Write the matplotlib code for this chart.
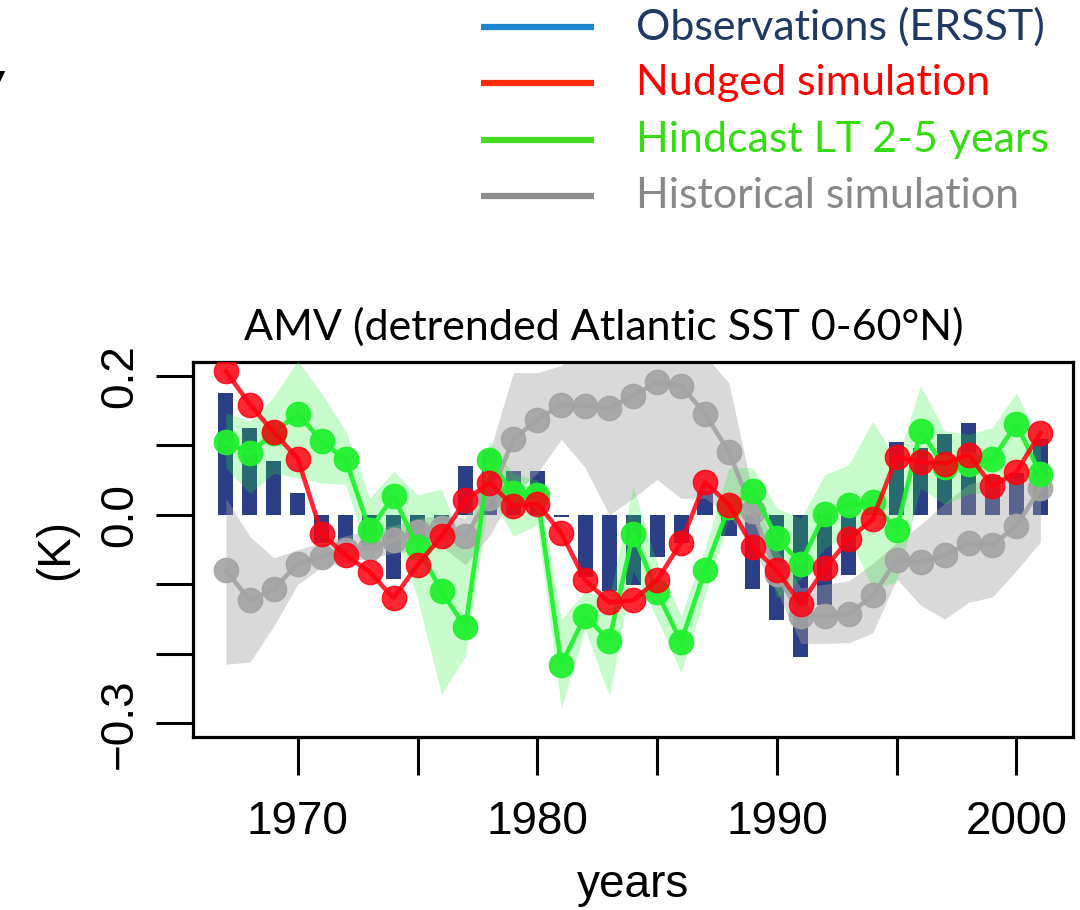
import numpy as np
import matplotlib.pyplot as plt
from matplotlib.lines import Line2D

# ==========================
# Data (K anomalies, 1967-2001)
# ==========================

years = np.arange(1967, 2002)

obs = [0.175, 0.125, 0.078, 0.031, -0.040, -0.038, -0.050, -0.092, -0.030, -0.012,
       0.070, 0.094, 0.063, 0.063, -0.003, -0.090, -0.110, -0.101, -0.060, -0.040,
       0.035, -0.031, -0.106, -0.152, -0.205, -0.130, -0.087, 0.005, 0.105, 0.096,
       0.116, 0.132, 0.058, 0.060, 0.110]

nudged = [0.207, 0.159, 0.119, 0.081, -0.027, -0.058, -0.082, -0.120, -0.072, -0.031,
          0.021, 0.046, 0.013, 0.016, -0.026, -0.094, -0.126, -0.123, -0.094, -0.040,
          0.047, 0.015, -0.046, -0.080, -0.128, -0.077, -0.035, -0.006, 0.084, 0.076,
          0.074, 0.087, 0.041, 0.062, 0.118]

hindcast = [0.105, 0.089, 0.118, 0.146, 0.106, 0.080, -0.022, 0.027, -0.046, -0.110,
            -0.162, 0.079, 0.032, 0.029, -0.216, -0.145, -0.181, -0.027, -0.111, -0.183,
            -0.080, 0.012, 0.034, -0.033, -0.070, 0.002, 0.014, 0.018, -0.022, 0.121,
            0.069, 0.073, 0.080, 0.131, 0.059]

hind_lo = [0.068, 0.031, 0.060, 0.053, 0.046, 0.044, -0.065, -0.020, -0.120, -0.258,
           -0.203, 0.030, -0.031, -0.014, -0.278, -0.165, -0.261, -0.080, -0.150, -0.227,
           -0.116, -0.005, 0.000, -0.120, -0.092, -0.048, -0.030, -0.106, -0.097, 0.039,
           0.015, 0.030, 0.034, 0.080, 0.030]

hind_hi = [0.147, 0.135, 0.170, 0.222, 0.175, 0.121, 0.024, 0.063, 0.029, 0.037,
           -0.053, 0.106, 0.060, 0.050, -0.150, -0.110, -0.120, 0.041, -0.070, -0.145,
           -0.048, 0.068, 0.068, 0.010, -0.005, 0.058, 0.072, 0.135, 0.077, 0.186,
           0.121, 0.116, 0.126, 0.176, 0.100]

historical = [-0.080, -0.123, -0.107, -0.070, -0.060, -0.051, -0.048, -0.036, -0.024, -0.019,
              -0.030, 0.025, 0.109, 0.137, 0.159, 0.157, 0.154, 0.172, 0.191, 0.186,
              0.146, 0.090, 0.005, -0.085, -0.145, -0.145, -0.143, -0.116, -0.065, -0.068,
              -0.058, -0.041, -0.043, -0.016, 0.039]

hist_lo = [-0.215, -0.212, -0.160, -0.100, -0.075, -0.068, -0.062, -0.055, -0.050, -0.045,
           -0.072, -0.030, 0.030, 0.060, 0.109, 0.068, 0.000, 0.024, 0.051, 0.024,
           0.024, 0.000, -0.050, -0.110, -0.185, -0.185, -0.184, -0.170, -0.092, -0.130,
           -0.150, -0.126, -0.118, -0.080, -0.039]

hist_hi = [0.024, -0.031, -0.062, -0.050, -0.040, -0.030, -0.022, -0.015, -0.005, 0.000,
           -0.005, 0.090, 0.205, 0.205, 0.215, 0.240, 0.250, 0.250, 0.250, 0.250,
           0.230, 0.190, 0.030, -0.050, -0.105, -0.100, -0.095, -0.070, -0.040, -0.014,
           0.017, 0.044, 0.053, 0.053, 0.053]

legend_labels = ['Observations (ERSST)', 'Nudged simulation',
                 'Hindcast LT 2-5 years', 'Historical simulation']
legend_line_colors = ['#1a86d0', '#ff2a0a', '#44dd22', '#8c8c8c']
legend_text_colors = ['#1f3864', '#ff0000', '#33dd11', '#888888']

# ==========================
# Styling
# ==========================

navy = '#2a3f87'
red = '#ff0010'
green = '#22f030'
grey = '#a3a3a3'

tick_font = 'Liberation Sans'
label_font = 'Lato'

fig = plt.figure(figsize=(10.8, 9.1), dpi=100)
ax = fig.add_axes([0.179, 0.190, 0.8145, 0.412])

# Observations as bars
ax.bar(years, obs, width=0.63, color=navy, zorder=1)

# Ensemble spread
ax.fill_between(years, hist_lo, hist_hi, color='#a0a0a0', alpha=0.4,
                linewidth=0, zorder=2)
ax.fill_between(years, hind_lo, hind_hi, color=green, alpha=0.25,
                linewidth=0, zorder=3)

# Ensemble means
ax.plot(years, historical, color=grey, lw=3.3, marker='o', ms=17.5,
        alpha=0.9, zorder=4)
ax.plot(years, hindcast, color=green, lw=3.3, marker='o', ms=17.5,
        alpha=0.95, zorder=5)
ax.plot(years, nudged, color=red, lw=3.3, marker='o', ms=17.5,
        alpha=0.85, zorder=6)

ax.set_xlim(1965.64, 2002.36)
ax.set_ylim(-0.32, 0.22)

ax.set_xticks(np.arange(1970, 2001, 5))
ax.set_xticklabels(['1970', '', '1980', '', '1990', '', '2000'])
ax.set_yticks([0.2, 0.1, 0.0, -0.1, -0.2, -0.3])
ax.set_yticklabels(['0.2', '', '0.0', '', '', '\u22120.3'],
                   rotation=90, va='center')

ax.tick_params(length=27, width=2.2, labelsize=33)
ax.tick_params(axis='x', pad=18)
ax.tick_params(axis='y', pad=10)
for lab in ax.get_xticklabels() + ax.get_yticklabels():
    lab.set_fontfamily(tick_font)
for sp in ax.spines.values():
    sp.set_linewidth(2.3)

ax.set_xlabel('years', fontsize=33, family=tick_font, labelpad=14)
ax.set_ylabel('(K)', fontsize=33, family=tick_font, labelpad=14)
ax.set_title('AMV (detrended Atlantic SST 0-60\u00b0N)', fontsize=31,
             family=label_font, pad=16, x=0.467)

# Legend drawn by hand in figure coordinates
W, H = 1080, 910
rows = [27, 83, 140, 196]
for y, lab, lc, tc in zip(rows, legend_labels, legend_line_colors, legend_text_colors):
    fig.add_artist(Line2D([481 / W, 594 / W], [1 - y / H, 1 - y / H],
                          color=lc, lw=4.5, solid_capstyle='butt'))
    fig.text(636 / W, 1 - y / H, lab, color=tc, fontsize=31,
             family=label_font, va='center', ha='left')

# Fragment of a label running off the left edge
fig.text(-0.022, 1 - 90 / H, 'V', fontsize=30, family=label_font,
         style='italic', fontweight='bold', va='center')

fig.savefig('out.png', dpi=100)
